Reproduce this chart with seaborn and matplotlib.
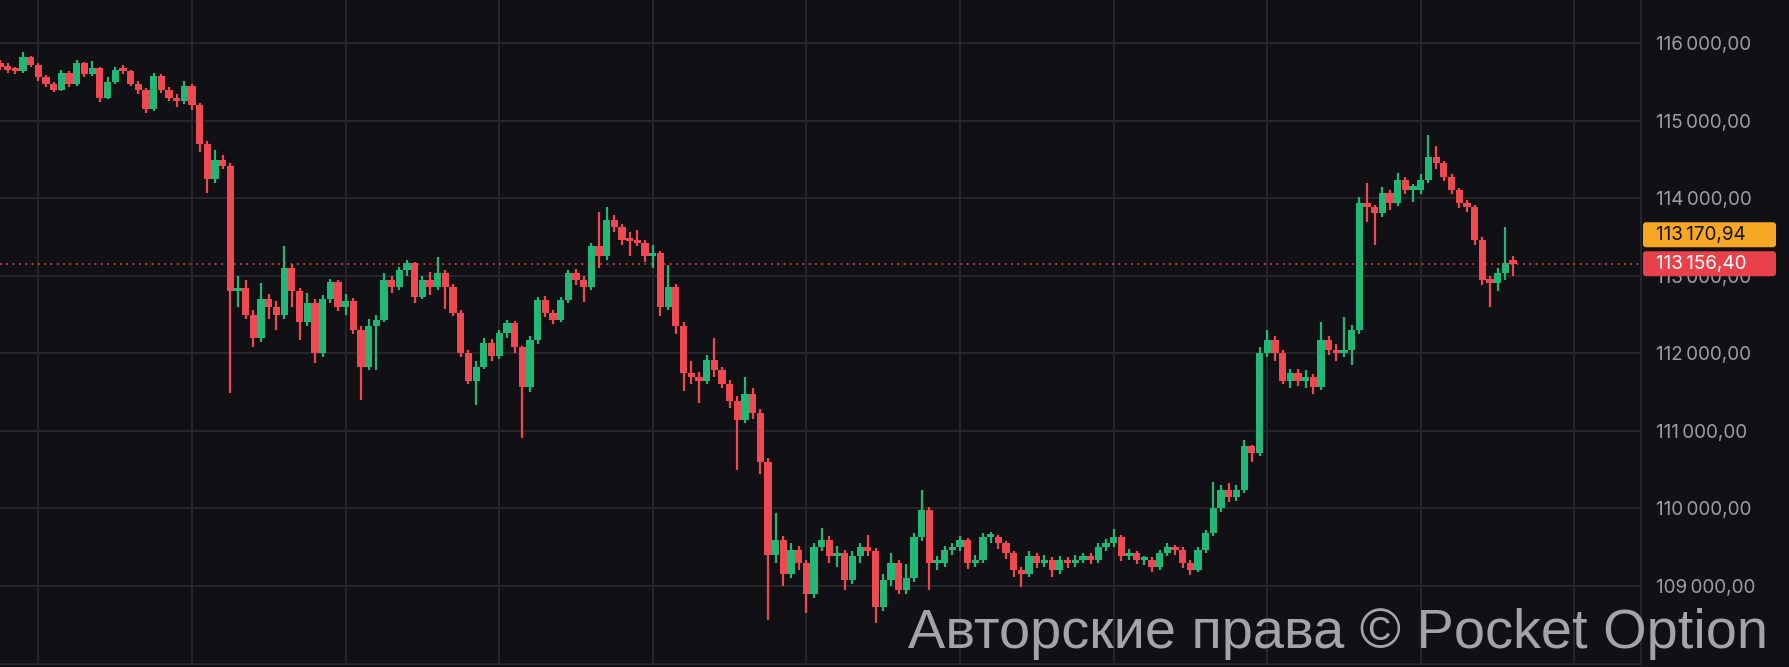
import matplotlib
matplotlib.use("Agg")
import matplotlib.pyplot as plt
import matplotlib.transforms as mtransforms
from matplotlib.patches import FancyBboxPatch
from matplotlib.ticker import FixedLocator, FuncFormatter, NullFormatter
import pandas as pd
import seaborn as sns

# candle data (one candle ~ 7.7 px of the original)
FIRST_OPEN = 115750
CLOSE = [
    115700, 115660, 115640, 115820, 115720, 115560, 115480, 115400, 115620, 115470,
    115740, 115600, 115680, 115300, 115500, 115650, 115640, 115480, 115400, 115150,
    115580, 115400, 115300, 115250, 115450, 115200, 114700, 114250, 114500, 114420,
    112800, 112850, 112500, 112200, 112700, 112600, 112500, 113100, 112800, 112400,
    112650, 112000, 112700, 112920, 112600, 112680, 112300, 111830, 112350, 112430,
    112950, 112860, 113080, 113160, 112730, 112950, 112860, 113040, 112860, 112520,
    112000, 111650, 111830, 112130, 111960, 112260, 112390, 112080, 111570, 112170,
    112690, 112520, 112430, 112690, 113040, 112950, 112860, 113380, 113250, 113720,
    113630, 113460, 113450, 113420, 113250, 113290, 112600, 112860, 112350, 111750,
    111700, 111650, 111910, 111780, 111610, 111390, 111140, 111480, 111230, 110600,
    109400, 109590, 109160, 109460, 109290, 108900, 109500, 109590, 109380, 109420,
    109080, 109380, 109500, 109450, 108730, 109080, 109290, 108950, 109100, 109630,
    109980, 109290, 109290, 109460, 109500, 109590, 109290, 109330, 109630, 109630,
    109550, 109420, 109200, 109160, 109380, 109290, 109330, 109200, 109330, 109290,
    109330, 109380, 109330, 109500, 109550, 109630, 109380, 109420, 109330, 109330,
    109250, 109420, 109500, 109460, 109290, 109200, 109460, 109680, 110000, 110240,
    110150, 110240, 110800, 110710, 112000, 112170, 112000, 111650, 111750, 111650,
    111700, 111570, 112170, 112040, 112000, 112040, 112300, 113940, 113890, 113810,
    114070, 113940, 114240, 114110, 114110, 114240, 114530, 114450, 114280, 114110,
    113940, 113890, 113460, 112950, 112910, 113040, 113160, 113156.40,
]
HIGH = [
    115780, 115740, 115700, 115890, 115840, 115740, 115590, 115500, 115660, 115640,
    115780, 115760, 115770, 115700, 115560, 115700, 115720, 115660, 115510, 115430,
    115620, 115600, 115440, 115350, 115510, 115480, 115230, 114740, 114620, 114560,
    114450, 113000, 112950, 112560, 112910, 112760, 112680, 113380, 113150, 112850,
    112780, 112700, 112750, 112960, 112950, 112760, 112720, 112350, 112450, 112500,
    113040, 113000, 113120, 113200, 113180, 113000, 113050, 113240, 113080, 112900,
    112560, 112050, 111900, 112200, 112180, 112300, 112430, 112420, 112100, 112220,
    112730, 112740, 112560, 112730, 113080, 113090, 113000, 113420, 113830, 113890,
    113780, 113670, 113560, 113590, 113460, 113400, 113320, 113140, 112900, 112400,
    111900, 111760, 111980, 112200, 111820, 111660, 111450, 111700, 111550, 111280,
    110650, 109940, 109640, 109560, 109520, 109330, 109560, 109750, 109640, 109520,
    109460, 109450, 109560, 109660, 109490, 109150, 109420, 109330, 109280, 109680,
    110240, 110020, 109380, 109520, 109560, 109640, 109620, 109400, 109680, 109700,
    109660, 109580, 109450, 109250, 109450, 109420, 109400, 109370, 109380, 109370,
    109400, 109430, 109420, 109560, 109600, 109740, 109660, 109480, 109450, 109390,
    109370, 109470, 109560, 109530, 109500, 109330, 109500, 109720, 110340, 110300,
    110330, 110300, 110880, 110820, 112080, 112300, 112220, 112040, 111800, 111800,
    111780, 111740, 112400, 112220, 112120, 112470, 112360, 114020, 114200, 113920,
    114150, 114110, 114330, 114280, 114180, 114310, 114820, 114680, 114480, 114310,
    114140, 113980, 113920, 113500, 113000, 113100, 113630, 113250,
]
LOW = [
    115650, 115620, 115600, 115620, 115690, 115520, 115440, 115370, 115380, 115440,
    115450, 115570, 115580, 115240, 115280, 115480, 115600, 115450, 115350, 115100,
    115130, 115360, 115250, 115180, 115220, 115140, 114600, 114070, 114200, 114380,
    111490, 112600, 112450, 112080, 112150, 112450, 112300, 112450, 112600, 112170,
    112350, 111870, 111950, 112650, 112550, 112500, 112250, 111400, 111780, 111780,
    112400, 112780, 112820, 113000, 112650, 112700, 112750, 112820, 112570, 112480,
    111950, 111600, 111330, 111800, 111900, 111930, 112200, 112000, 110910, 111500,
    112120, 112470, 112380, 112400, 112650, 112880, 112660, 112820, 113100, 113200,
    113560, 113400, 113250, 113380, 113180, 113100, 112480, 112560, 112250, 111520,
    111600, 111360, 111600, 111700, 111550, 111300, 110490, 111100, 111150, 110450,
    108560, 109300, 109000, 109100, 109200, 108650, 108850, 109450, 109300, 109250,
    108950, 109020, 109300, 109380, 108520, 108680, 109000, 108900, 108900, 109050,
    109580, 108950, 109200, 109240, 109400, 109450, 109220, 109250, 109300, 109560,
    109480, 109350, 109120, 108990, 109120, 109230, 109240, 109120, 109160, 109230,
    109250, 109290, 109280, 109300, 109450, 109500, 109320, 109330, 109280, 109270,
    109180, 109200, 109380, 109400, 109230, 109140, 109180, 109420, 109650, 109950,
    110080, 110100, 110200, 110600, 110680, 111950, 111900, 111600, 111560, 111580,
    111550, 111480, 111530, 111980, 111900, 111950, 111850, 112250, 113700, 113400,
    113760, 113850, 113900, 114050, 113950, 114060, 114200, 114380, 114220, 114050,
    113880, 113820, 113400, 112880, 112600, 112800, 112950, 113000,
]
PRICE_TICKS = [109000, 110000, 111000, 112000, 113000, 114000, 115000, 116000]
GRID_TIMES = [5, 25, 45, 65, 85, 105, 125, 145, 165, 185, 205]
ASK_PRICE = 113170.94
LAST_PRICE = 113156.40
WATERMARK = "Авторские права © Pocket Option"

BG = "#111014"
GRID = "#26262b"
GREEN = "#22b777"
RED = "#ef4850"
W, H = 1789, 667


def price_label(v):
    whole = int(v)
    cents = int(round((v - whole) * 100))
    return f"{whole // 1000}\u2009{whole % 1000:03d},{cents:02d}"


df = pd.DataFrame({"close": CLOSE, "high": HIGH, "low": LOW})
df["open"] = [FIRST_OPEN] + CLOSE[:-1]
df["t"] = range(len(df))
df["up"] = df["close"] >= df["open"]
df["color"] = df["up"].map({True: GREEN, False: RED})
df["body_lo"] = df[["open", "close"]].min(axis=1)
df["body_h"] = (df["close"] - df["open"]).abs().clip(lower=45)

sns.set_theme(style="dark", rc={
    "axes.facecolor": BG, "figure.facecolor": BG,
    "axes.edgecolor": GRID, "grid.color": GRID,
})
plt.rcParams["font.family"] = ["Inter", "DejaVu Sans"]

fig = plt.figure(figsize=(W / 100, H / 100), dpi=100)
ax = fig.add_axes([0, 3 / H, 1641 / W, 664 / H])

# dense candles: bodies almost touch so the series reads as one jagged ribbon
ax.vlines(df["t"], df["low"], df["high"], colors=df["color"], lw=1.6, zorder=2)
ax.bar(df["t"], df["body_h"], bottom=df["body_lo"], width=0.95,
       color=df["color"], linewidth=0, zorder=3)

ax.axhline(LAST_PRICE, color="#e3474d", lw=1.3, ls=(0, (0.9, 2.6)), zorder=4)

ax.set_xlim(0, 1641 / 7.68)
ax.set_ylim(107993, 116559)

ax.xaxis.set_major_locator(FixedLocator(GRID_TIMES))
ax.xaxis.set_major_formatter(NullFormatter())
ax.yaxis.set_major_locator(FixedLocator(PRICE_TICKS))
ax.yaxis.set_major_formatter(FuncFormatter(lambda v, _: price_label(v)))
ax.yaxis.tick_right()
ax.tick_params(axis="y", length=0, pad=10.5, labelsize=13.6, labelcolor="#9c9ea5")
ax.tick_params(axis="x", length=0)
ax.grid(True, color=GRID, lw=1.4)
ax.set_axisbelow(True)

for side in ("top", "left"):
    ax.spines[side].set_visible(False)
for side in ("right", "bottom"):
    ax.spines[side].set_color(GRID)
    ax.spines[side].set_linewidth(1.4)

# price tags on the right scale, placed in figure pixels
pix = mtransforms.IdentityTransform()
last_y = ax.transData.transform((0, LAST_PRICE))[1]
tags = [
    (ASK_PRICE, last_y + 29, "#f6a723", "#15120c"),
    (LAST_PRICE, last_y, "#e9414b", "#ffffff"),
]
for value, cy, face, ink in tags:
    box = FancyBboxPatch((1643, cy - 12.5), 133, 25,
                         boxstyle="round,pad=0,rounding_size=3",
                         transform=pix, facecolor=face, edgecolor="none",
                         zorder=6)
    fig.add_artist(box)
    fig.text(1656 / W, cy / H, price_label(value),
             ha="left", va="center", fontsize=13.6, color=ink, zorder=7)

fig.text(1768 / W, 19 / H, WATERMARK, ha="right", va="baseline",
         fontsize=40.3, color="#a4a4a8", family=["Liberation Sans", "DejaVu Sans"],
         zorder=10)

fig.savefig("out.png", dpi=100, facecolor=BG)
